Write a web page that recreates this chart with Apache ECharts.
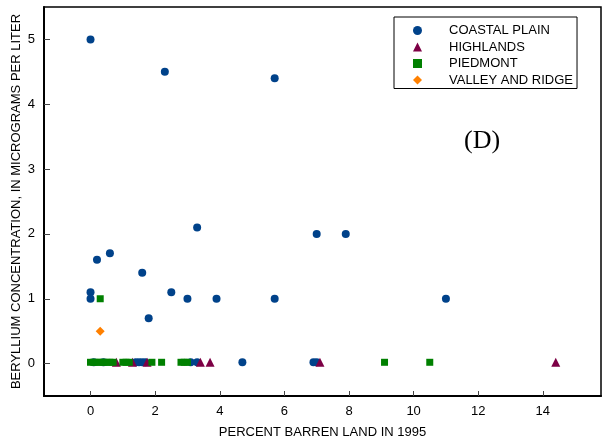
<!DOCTYPE html>
<html>
<head>
<meta charset="utf-8">
<script src="https://cdn.jsdelivr.net/npm/echarts@6/dist/echarts.min.js"></script>
<style>
html,body{margin:0;padding:0;background:#fff;}
#chart{width:610px;height:441px;}
</style>
</head>
<body>
<div id="chart"></div>
<script>
// Data (x = percent barren land, y = beryllium ug/L)
var coastalPlain = [
  [0, 5.0], [2.3, 4.5], [5.7, 4.4], [3.3, 2.1], [7.0, 2.0], [7.9, 2.0],
  [0.6, 1.7], [0.2, 1.6], [1.6, 1.4], [0, 1.1], [0, 1.0], [2.5, 1.1],
  [3.0, 1.0], [3.9, 1.0], [5.7, 1.0], [11.0, 1.0], [1.8, 0.7],
  [0.1, 0.02], [0.4, 0.02], [1.4, 0.02], [1.5, 0.02], [1.6, 0.02], [1.7, 0.02],
  [3.1, 0.02], [3.3, 0.02], [4.7, 0.02], [6.9, 0.02], [7.0, 0.02]
];
var highlands = [
  [0.8, 0.02], [1.3, 0.02], [1.75, 0.02], [3.4, 0.02], [3.7, 0.02], [7.1, 0.02], [14.4, 0.02]
];
var piedmont = [
  [0.3, 1.0],
  [0, 0.02], [0.1, 0.02], [0.2, 0.02], [0.3, 0.02], [0.4, 0.02], [0.5, 0.02],
  [0.6, 0.02], [0.7, 0.02], [1.0, 0.02], [1.1, 0.02], [1.2, 0.02], [1.9, 0.02],
  [2.2, 0.02], [2.8, 0.02], [2.9, 0.02], [3.0, 0.02], [9.1, 0.02], [10.5, 0.02]
];
var valleyAndRidge = [
  [0.3, 0.5]
];
var seriesNames = ['COASTAL PLAIN', 'HIGHLANDS', 'PIEDMONT', 'VALLEY AND RIDGE'];
var xTicks = [0, 2, 4, 6, 8, 10, 12, 14];
var yTicks = [0, 1, 2, 3, 4, 5];

var FONT = 'Liberation Sans, Arial, sans-serif';
var chart = echarts.init(document.getElementById('chart'), null, {renderer: 'canvas'});

var option = {
  backgroundColor: '#fff',
  animation: false,
  grid: {
    left: 44, top: 7, right: 9, bottom: 45,
    containLabel: false,
    outerBoundsMode: 'none',
    show: true, borderColor: '#000', borderWidth: 1.5, backgroundColor: 'transparent'
  },
  xAxis: {
    type: 'value',
    min: -1.44, max: 15.8,
    name: 'PERCENT BARREN LAND IN 1995',
    nameLocation: 'middle',
    nameGap: 30,
    nameMoveOverlap: false,
    nameTextStyle: {fontFamily: FONT, fontSize: 13, color: '#000'},
    axisLine: {show: true, onZero: false, lineStyle: {color: '#000', width: 2}},
    axisTick: {show: true, inside: true, length: 5, customValues: xTicks, lineStyle: {color: '#444', width: 1}},
    axisLabel: {customValues: xTicks, fontFamily: FONT, fontSize: 13, color: '#000', margin: 9},
    splitLine: {show: false}
  },
  yAxis: {
    type: 'value',
    min: -0.5, max: 5.5,
    name: 'BERYLLIUM CONCENTRATION, IN MICROGRAMS PER LITER',
    nameLocation: 'middle',
    nameGap: 21,
    nameMoveOverlap: false,
    nameTextStyle: {fontFamily: FONT, fontSize: 13, color: '#000'},
    axisLine: {show: true, onZero: false, lineStyle: {color: '#000', width: 2}},
    axisTick: {show: true, inside: true, length: 6, customValues: yTicks, lineStyle: {color: '#444', width: 1}},
    axisLabel: {customValues: yTicks, fontFamily: FONT, fontSize: 13, color: '#000', margin: 9},
    splitLine: {show: false}
  },
  legend: {
    orient: 'vertical',
    left: 394, top: 17,
    padding: [7, 4, 2, 19],
    itemGap: 3.5,
    itemWidth: 9, itemHeight: 9,
    borderColor: '#000', borderWidth: 1,
    backgroundColor: '#fff',
    data: seriesNames,
    textStyle: {fontFamily: FONT, fontSize: 13, color: '#000', padding: [0, 0, 0, 22]}
  },
  graphic: [{
    type: 'text', left: 464, top: 128,
    style: {text: '(D)', font: '26px "Liberation Serif", "Times New Roman", serif', fill: '#000'}
  }],
  series: [
    {name: seriesNames[0], type: 'scatter', data: coastalPlain, symbol: 'circle', symbolSize: 8,
     itemStyle: {color: '#00428a', opacity: 1}},
    {name: seriesNames[1], type: 'scatter', data: highlands, symbol: 'triangle', symbolSize: 9,
     itemStyle: {color: '#7d0045', opacity: 1}},
    {name: seriesNames[2], type: 'scatter', data: piedmont, symbol: 'rect', symbolSize: 7,
     itemStyle: {color: '#008000', opacity: 1}},
    {name: seriesNames[3], type: 'scatter', data: valleyAndRidge, symbol: 'diamond', symbolSize: 9,
     itemStyle: {color: '#ff8000', opacity: 1}}
  ]
};
chart.setOption(option);
</script>
</body>
</html>
